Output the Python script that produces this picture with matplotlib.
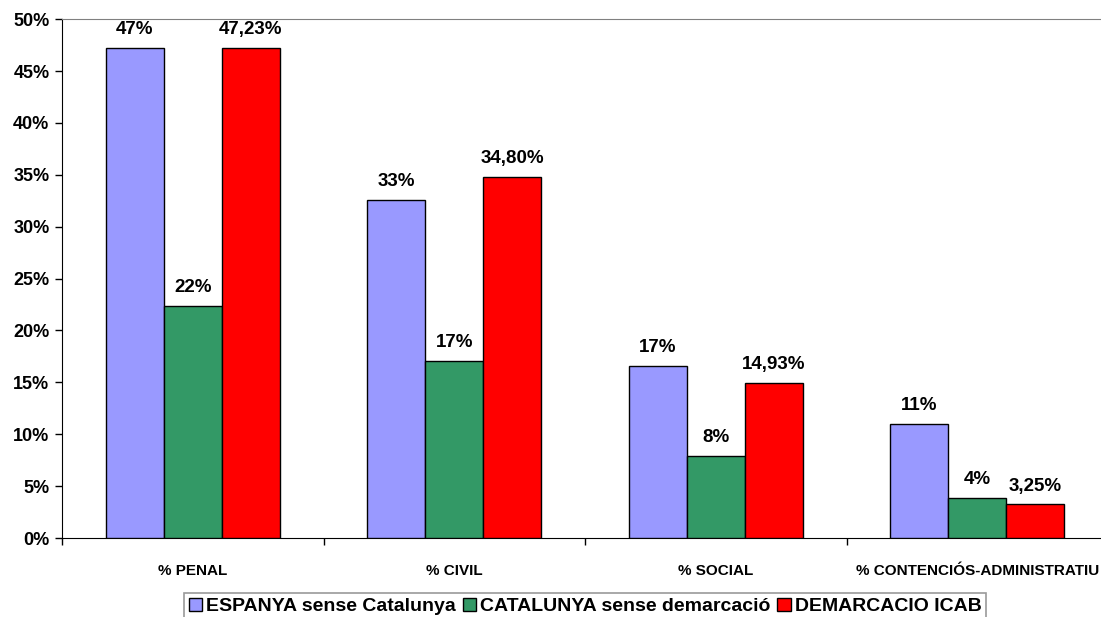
import numpy as np
import matplotlib
matplotlib.use("Agg")
import matplotlib.pyplot as plt
from matplotlib.ticker import MultipleLocator, FuncFormatter

plt.rcParams['font.family'] = ['Liberation Sans', 'DejaVu Sans']
plt.rcParams['font.weight'] = 'bold'

# -----------------------------------------------------------------------------
# Data (percentages)
# -----------------------------------------------------------------------------
categories = ["% PENAL", "% CIVIL", "% SOCIAL", "% CONTENCIÓS-ADMINISTRATIU"]
series_names = ["ESPANYA sense Catalunya", "CATALUNYA sense demarcació", "DEMARCACIO ICAB"]
espanya = [47.2, 32.6, 16.6, 11.0]
catalunya = [22.4, 17.1, 7.9, 3.9]
icab = [47.23, 34.80, 14.93, 3.25]

colors = ["#9999FF", "#339966", "#FF0000"]
label_fmt = [lambda v: f"{v:.0f}%",
             lambda v: f"{v:.0f}%",
             lambda v: f"{v:.2f}%".replace(".", ",")]

fig = plt.figure(figsize=(11.01, 6.17), dpi=100)
ax = fig.add_axes([0.0563, 0.128, 0.9501, 0.841])

x = np.arange(len(categories))
width = 0.222
for i, (vals, name, c) in enumerate(zip([espanya, catalunya, icab], series_names, colors)):
    bars = ax.bar(x + (i - 1) * width, vals, width, color=c, edgecolor="black",
                  linewidth=1.0, label=name, zorder=3)
    for b, v in zip(bars, vals):
        ax.annotate(label_fmt[i](v), (b.get_x() + b.get_width() / 2, v),
                    xytext=(0, 7), textcoords="offset points",
                    ha="center", va="bottom", fontsize=13.5, fontweight="bold")

ax.set_xlim(-0.5, len(categories) - 0.5)
ax.set_ylim(0, 50)
ax.yaxis.set_major_locator(MultipleLocator(5))
ax.yaxis.set_major_formatter(FuncFormatter(lambda v, p: f"{v:.0f}%"))

# category labels between boundary ticks
ax.set_xticks(np.arange(-0.5, len(categories) + 0.5, 1.0))
ax.set_xticklabels([])
ax.set_xticks(x, minor=True)
ax.set_xticklabels(categories, minor=True, fontsize=11, fontweight="bold")
ax.tick_params(axis="x", which="minor", length=0, pad=19)
ax.tick_params(axis="x", which="major", length=5, width=1, direction="out")
ax.tick_params(axis="y", length=5, width=1, direction="out", labelsize=13, pad=4)
for lbl in ax.get_yticklabels():
    lbl.set_fontweight("bold")

ax.spines["top"].set_color("#808080")
ax.spines["right"].set_visible(False)
ax.spines["left"].set_color("black")
ax.spines["bottom"].set_color("black")

leg = ax.legend(loc="upper center", bbox_to_anchor=(0.5, -0.106), ncol=3,
                frameon=True, fancybox=False, shadow=False, fontsize=14,
                handlelength=0.7, handleheight=0.7, handletextpad=0.2,
                columnspacing=0.35, borderpad=0.25, borderaxespad=0)
leg.get_frame().set_edgecolor("#808080")
leg.get_frame().set_linewidth(1.2)
for t in leg.get_texts():
    t.set_fontweight("bold")

fig.savefig("out.png", dpi=100)
